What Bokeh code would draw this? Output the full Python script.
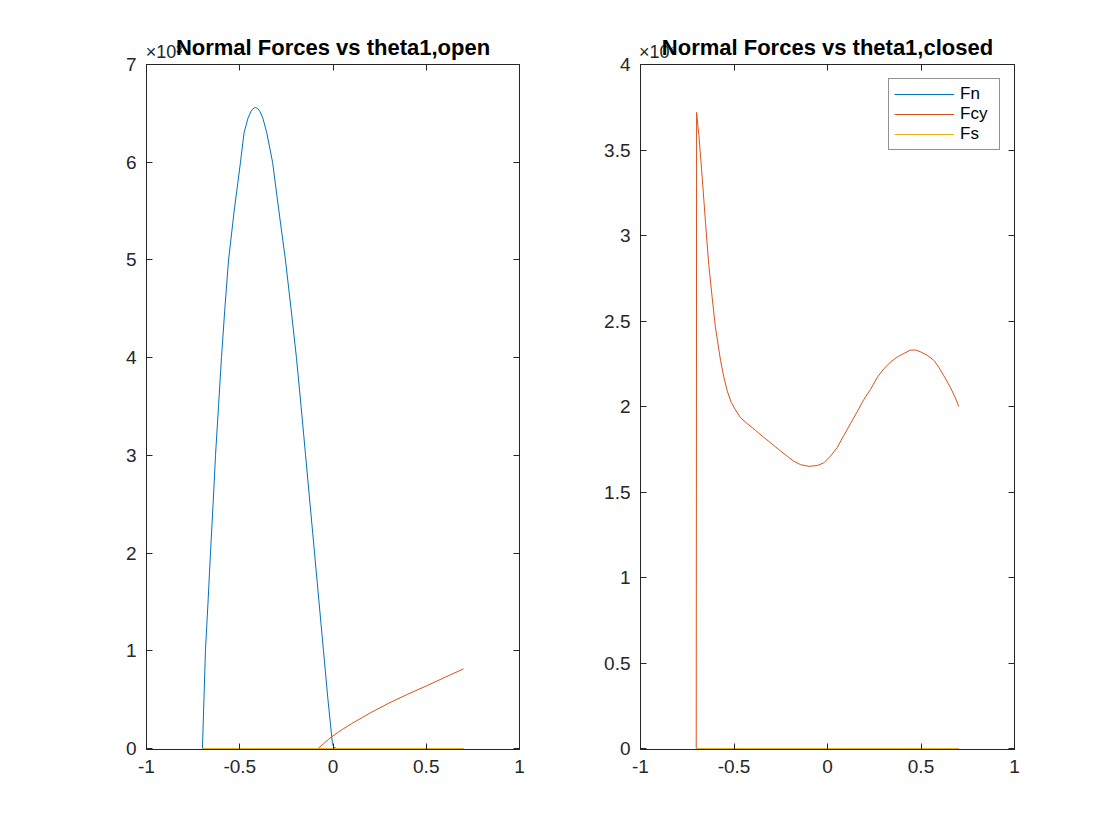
from bokeh.plotting import figure
from bokeh.layouts import row
from bokeh.models import Range1d, FixedTicker, LinearAxis, Legend, LegendItem
from bokeh.embed import file_html
from bokeh.resources import INLINE

FONT = "Liberation Sans"
AX = "#262626"
C_FN = "#0072BD"
C_FCY = "#D95319"
C_FS = "#EDB120"

x_ticks = [-1, -0.5, 0, 0.5, 1]

# ---- left panel: open (values in units of 1e3) ----
open_yticks = [0, 1, 2, 3, 4, 5, 6, 7]
open_fn_x = [-0.700, -0.692, -0.684, -0.670, -0.657, -0.643, -0.630, -0.614, -0.598, -0.580,
             -0.560, -0.530, -0.496, -0.477, -0.456, -0.440, -0.428, -0.416, -0.404, -0.392,
             -0.376, -0.355, -0.324, -0.290, -0.255, -0.225, -0.196, -0.171, -0.147, -0.123,
             -0.099, -0.075, -0.051, -0.027, -0.003, 0.005, 0.020, 0.700]
open_fn_y = [0.0, 0.5, 1.0, 1.5, 2.0, 2.5, 3.0, 3.5, 4.0, 4.5,
             5.0, 5.5, 6.0, 6.3, 6.45, 6.52, 6.55, 6.56, 6.55, 6.52,
             6.45, 6.3, 6.0, 5.5, 5.0, 4.5, 4.0, 3.5, 3.0, 2.5,
             2.0, 1.5, 1.0, 0.5, 0.05, 0.01, 0.0, 0.0]
open_fcy_x = [-0.70, -0.08, -0.05, -0.025, 0.0, 0.05, 0.10, 0.20, 0.30, 0.40, 0.50, 0.60, 0.70]
open_fcy_y = [0.0, 0.0, 0.05, 0.092, 0.13, 0.195, 0.255, 0.365, 0.465, 0.555, 0.64, 0.728, 0.815]
open_fs_x = [-0.70, 0.70]
open_fs_y = [0.0, 0.0]

# ---- right panel: closed (values in units of 1e-6) ----
closed_yticks = [0, 0.5, 1, 1.5, 2, 2.5, 3, 3.5, 4]
closed_fn_x = [-0.70, 0.70]
closed_fn_y = [0.0, 0.0]
closed_fcy_x = [-0.702, -0.700, -0.694, -0.688, -0.670, -0.652, -0.635, -0.617, -0.599, -0.572,
                -0.554, -0.536, -0.515, -0.492, -0.465, -0.429, -0.385, -0.341, -0.296, -0.251,
                -0.216, -0.180, -0.144, -0.100, -0.055, -0.020, 0.016, 0.052, 0.087, 0.123,
                0.159, 0.194, 0.230, 0.266, 0.301, 0.337, 0.373, 0.408, 0.444, 0.471,
                0.497, 0.533, 0.569, 0.595, 0.622, 0.658, 0.684, 0.702]
closed_fcy_y = [0.0, 3.72, 3.65, 3.59, 3.34, 3.07, 2.83, 2.64, 2.46, 2.27,
                2.17, 2.09, 2.025, 1.98, 1.934, 1.90, 1.86, 1.82, 1.78, 1.74,
                1.71, 1.68, 1.66, 1.65, 1.655, 1.67, 1.71, 1.76, 1.83, 1.90,
                1.97, 2.04, 2.10, 2.17, 2.22, 2.26, 2.29, 2.31, 2.33, 2.33,
                2.32, 2.30, 2.27, 2.23, 2.18, 2.11, 2.05, 2.00]
closed_fs_x = [-0.70, 0.70]
closed_fs_y = [0.0, 0.0]

NBSP = "\u00a0"


def fmt(v):
    return f"{v:g}"


def style_axis(ax, ticks, labels):
    ax.ticker = FixedTicker(ticks=ticks)
    ax.minor_tick_line_color = None
    ax.major_tick_in = 6
    ax.major_tick_out = 0
    ax.axis_line_color = AX
    ax.major_tick_line_color = AX
    ax.major_label_overrides = labels
    ax.major_label_text_font = FONT
    ax.major_label_text_font_size = "19px"
    ax.major_label_text_color = AX
    ax.major_label_standoff = 10


def make_panel(title, ymax, yticks, exp, bl, br, fw):
    fh = 684
    p = figure(frame_width=fw, frame_height=fh + 1,
               min_border_left=bl, min_border_right=br, min_border_top=64, min_border_bottom=84,
               x_range=Range1d(-1, 1), y_range=Range1d(-ymax / fh, ymax),
               output_backend="svg", toolbar_location=None)
    p.xgrid.visible = False
    p.ygrid.visible = False
    p.outline_line_color = AX
    p.outline_line_alpha = 1
    style_axis(p.xaxis[0], x_ticks, {t: fmt(t) for t in x_ticks})
    style_axis(p.yaxis[0], yticks, {t: fmt(t) for t in yticks})
    p.xaxis[0].axis_line_color = None
    top = LinearAxis()
    top_labels = {t: "" for t in x_ticks}
    top_labels[x_ticks[0]] = NBSP * 7 + "×10" + exp
    style_axis(top, x_ticks, top_labels)
    top.major_label_text_font_size = "18px"
    top.major_label_standoff = 3
    top.axis_label = title
    top.axis_label_text_font = FONT
    top.axis_label_text_font_size = "22px"
    top.axis_label_text_font_style = "bold"
    top.axis_label_text_color = "black"
    top.axis_label_standoff = -21
    p.add_layout(top, "above")
    right = LinearAxis()
    style_axis(right, yticks, {t: "" for t in yticks})
    right.major_label_standoff = 0
    p.add_layout(right, "right")
    return p


p1 = make_panel("Normal Forces vs theta1,open", 7, open_yticks, "³", 146, 49, 373)
p1.line(open_fn_x, open_fn_y, line_color=C_FN, line_width=1)
p1.line(open_fcy_x, open_fcy_y, line_color=C_FCY, line_width=1)
p1.line(open_fs_x, open_fs_y, line_color=C_FS, line_width=1)

p2 = make_panel("Normal Forces vs theta1,closed", 4, closed_yticks, "⁶", 72, 98, 374)
r_fn = p2.line(closed_fn_x, closed_fn_y, line_color=C_FN, line_width=1)
r_fcy = p2.line(closed_fcy_x, closed_fcy_y, line_color=C_FCY, line_width=1)
r_fs = p2.line(closed_fs_x, closed_fs_y, line_color=C_FS, line_width=1)

legend = Legend(items=[LegendItem(label="Fn", renderers=[r_fn]),
                       LegendItem(label="Fcy", renderers=[r_fcy]),
                       LegendItem(label="Fs", renderers=[r_fs])],
                location="top_right", margin=14, padding=5, spacing=0,
                glyph_width=60, glyph_height=20, label_height=20, label_standoff=6,
                label_width=34,
                label_text_font=FONT, label_text_font_size="17px", label_text_color="black",
                border_line_color=AX, border_line_width=1, background_fill_color="white")
p2.add_layout(legend, "center")

layout = row(p1, p2)
open("out.html", "w").write(file_html(layout, INLINE))
